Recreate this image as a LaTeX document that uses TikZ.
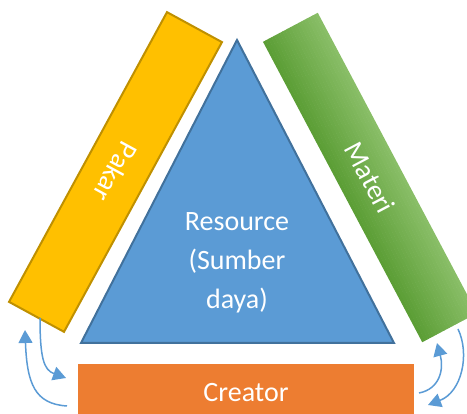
\documentclass[tikz,border=0pt]{standalone}
\usepackage{fontspec}
\setmainfont{Carlito}
\usetikzlibrary{arrows.meta}
\definecolor{triblue}{HTML}{5B9BD5}
\definecolor{triedge}{HTML}{41719C}
\definecolor{gold}{HTML}{FFC000}
\definecolor{golddark}{HTML}{BF9000}
\definecolor{leafdark}{HTML}{5C9E36}
\definecolor{leaflight}{HTML}{89BE67}
\definecolor{rust}{HTML}{ED7D31}
\tikzset{
  bartext/.style={inner sep=0pt, text=white, font=\fontsize{28}{34}\selectfont},
  flow/.style={draw=triblue, line width=1.5pt, -{Triangle[length=13pt,width=14pt]}},
}
\begin{document}
\begin{tikzpicture}[x=1pt,y=1pt]
\useasboundingbox (0,0) rectangle (467,414);
\clip (0,0) rectangle (467,414);

% central resource triangle
\filldraw[fill=triblue, draw=triedge, line width=2pt, line join=miter]
  (237,374) -- (394,71) -- (81,71) -- cycle;
\node[bartext, align=center, font=\fontsize{28}{39}\selectfont] (res) at (237,151)
  {Resource\\(Sumber\\daya)};

% left bar
\node[bartext, fill=gold, draw=golddark, line width=2pt, rotate=-118.6,
      minimum width=330pt, minimum height=62.6pt] (pakar) at (115.5,242) {Pakar};

% right bar: thin strips across its width, darker below, lighter above
\begin{scope}[shift={(370,236.5)}, rotate=-62.07]
  \foreach \i in {0,...,19}{
    \pgfmathtruncatemacro\p{100*\i/19}
    \fill[leaflight!\p!leafdark]
      (-170,{-31+3.1*\i}) rectangle (170,{min(31,-31+3.1*\i+3.5)});
  }
\end{scope}
\node[bartext, rotate=-62.07] (materi) at (370,236.5) {Materi};

% bottom bar
\node[bartext, fill=rust, minimum width=336pt, minimum height=57pt] (creator) at (246,21.5) {Creator};

% end points of the curved arrows
\coordinate (l1s) at (40,96);
\coordinate (l1e) at (66,36);
\coordinate (l2s) at (67,8);
\coordinate (l2e) at (25,84);
\coordinate (r1s) at (419,21);
\coordinate (r1e) at (437,71);
\coordinate (r2s) at (458,85);
\coordinate (r2e) at (428,9);

\draw[flow] (l1s) .. controls (40,55) and (44,44) .. (l1e);
\draw[flow] (l2s) .. controls (35,10) and (27,30) .. (l2e);
\draw[flow] (r1s) .. controls (440,25) and (444,45) .. (r1e);
\draw[flow] (r2s) .. controls (470,60) and (462,22) .. (r2e);
\end{tikzpicture}
\end{document}
